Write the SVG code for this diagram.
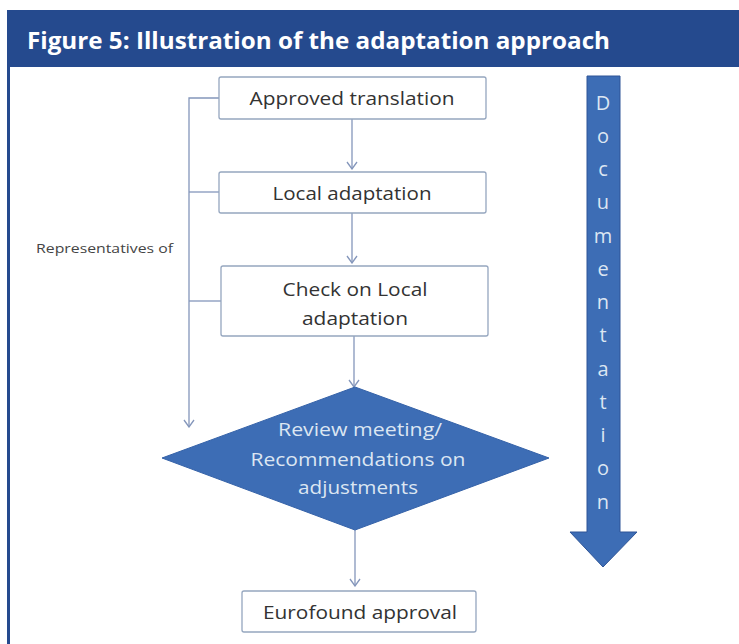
<svg xmlns="http://www.w3.org/2000/svg" width="739" height="644" viewBox="0 0 739 644">
<defs>
<style>
.box{fill:#fff;stroke:#95a6bf;stroke-width:1.3}
.t{font-family:"Open Sans","Noto Sans",sans-serif;font-size:19px;fill:#333;text-anchor:middle}
.dt{font-family:"Open Sans","Noto Sans",sans-serif;font-size:19px;fill:#dce6f2;text-anchor:middle}
.con{stroke:#8496bb;stroke-width:1.3;fill:none}
.doc{font-family:"Open Sans","Noto Sans",sans-serif;font-size:20px;fill:#dce6f2;text-anchor:middle}
</style>
<marker id="ah" viewBox="0 0 12 12" refX="11" refY="6" markerWidth="12" markerHeight="12" markerUnits="userSpaceOnUse" orient="auto">
<path d="M4,1 L11,6 L4,11" fill="none" stroke="#8496bb" stroke-width="1.3"/>
</marker>
</defs>
<rect width="739" height="644" fill="#fff"/>
<g id="header">
<rect x="7" y="10" width="732" height="57" fill="#254a8e"/>
<line x1="8.5" y1="67" x2="8.5" y2="644" stroke="#254a8e" stroke-width="3"/>
<text x="27" y="49" font-family="'Open Sans','Noto Sans',sans-serif" font-weight="bold" font-size="24" fill="#fff" textLength="583" lengthAdjust="spacingAndGlyphs">Figure 5: Illustration of the adaptation approach</text>
</g>
<g id="connectors">
<line class="con" x1="352" y1="119" x2="352" y2="169" marker-end="url(#ah)"/>
<line class="con" x1="352" y1="213" x2="352" y2="263" marker-end="url(#ah)"/>
<line class="con" x1="354" y1="336" x2="354" y2="387" marker-end="url(#ah)"/>
<line class="con" x1="355" y1="530" x2="355" y2="586" marker-end="url(#ah)"/>
<polyline class="con" points="219,98 189,98 189,427" marker-end="url(#ah)"/>
<line class="con" x1="189" y1="192" x2="219" y2="192"/>
<line class="con" x1="189" y1="301" x2="221" y2="301"/>
</g>
<g id="representatives">
<text x="36" y="253" font-family="'Open Sans','Noto Sans',sans-serif" font-size="13" fill="#444" textLength="137" lengthAdjust="spacingAndGlyphs">Representatives of</text>
</g>
<g id="approved-translation">
<rect class="box" x="219" y="77" width="267" height="42" rx="2"/>
<text class="t" x="352" y="105" textLength="205" lengthAdjust="spacingAndGlyphs">Approved translation</text>
</g>
<g id="local-adaptation">
<rect class="box" x="219" y="172" width="267" height="41" rx="2"/>
<text class="t" x="352" y="200" textLength="159" lengthAdjust="spacingAndGlyphs">Local adaptation</text>
</g>
<g id="check-local-adaptation">
<rect class="box" x="221" y="266" width="267" height="70" rx="2"/>
<text class="t" x="355" y="296" textLength="145" lengthAdjust="spacingAndGlyphs">Check on Local</text>
<text class="t" x="355" y="325" textLength="106" lengthAdjust="spacingAndGlyphs">adaptation</text>
</g>
<g id="review-meeting">
<polygon points="355,387 549,458 355,530 162,458" fill="#3d6db5" stroke="#3562a8" stroke-width="1"/>
<text class="dt" x="360" y="436" textLength="164" lengthAdjust="spacingAndGlyphs">Review meeting/</text>
<text class="dt" x="358" y="466" textLength="215" lengthAdjust="spacingAndGlyphs">Recommendations  on</text>
<text class="dt" x="358" y="494" textLength="120" lengthAdjust="spacingAndGlyphs">adjustments</text>
</g>
<g id="eurofound-approval">
<rect class="box" x="242" y="591" width="234" height="41" rx="2"/>
<text class="t" x="360" y="619" textLength="194" lengthAdjust="spacingAndGlyphs">Eurofound  approval</text>
</g>
<g id="documentation">
<polygon points="587,76 620,76 620,532 637,532 603,567 570,532 587,532" fill="#3d6db5" stroke="#2f5597" stroke-width="1"/>
<text class="doc" x="603" y="110">D</text>
<text class="doc" x="603" y="143">o</text>
<text class="doc" x="603" y="176">c</text>
<text class="doc" x="603" y="209">u</text>
<text class="doc" x="603" y="243">m</text>
<text class="doc" x="603" y="276">e</text>
<text class="doc" x="603" y="309">n</text>
<text class="doc" x="603" y="342">t</text>
<text class="doc" x="603" y="376">a</text>
<text class="doc" x="603" y="409">t</text>
<text class="doc" x="603" y="442">i</text>
<text class="doc" x="603" y="475">o</text>
<text class="doc" x="603" y="509">n</text>
</g>
</svg>
